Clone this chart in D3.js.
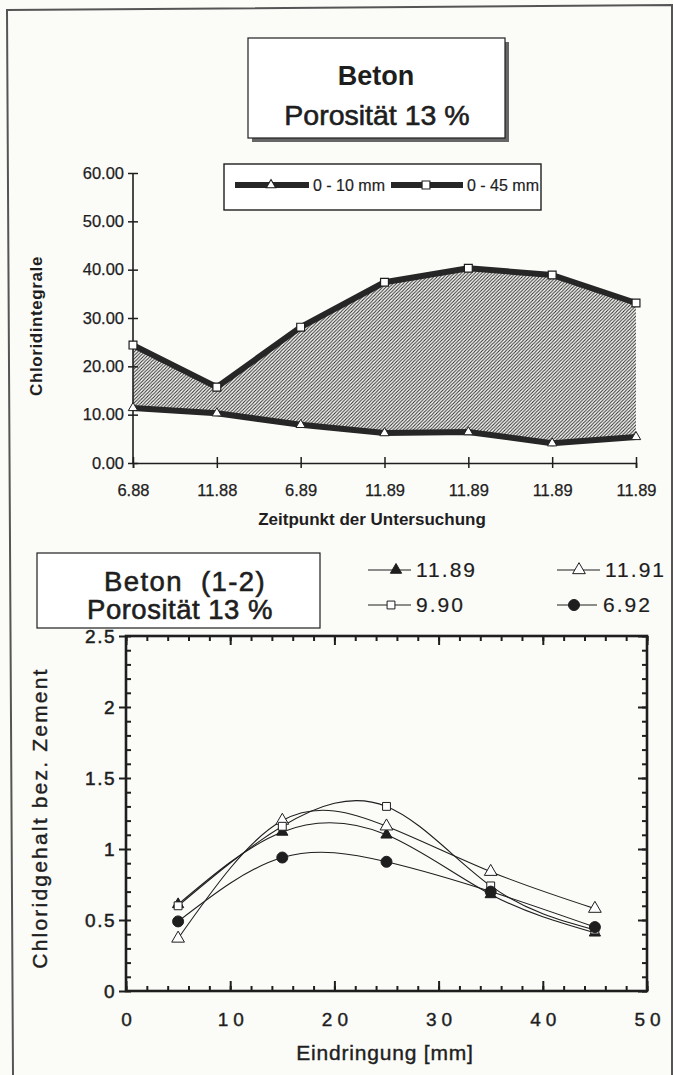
<!DOCTYPE html>
<html>
<head>
<meta charset="utf-8">
<script src="https://cdn.jsdelivr.net/npm/d3@7"></script>
<style>
  body { margin: 0; background: #fbfbf8; }
  text { font-family: "Liberation Sans", Arial, Helvetica, sans-serif; fill: #1e1e1e; }
</style>
</head>
<body>
<svg width="673" height="1075"></svg>
<script>
// ---- data, upper chart (Chloridintegrale) ----
const dates = ["6.88", "11.88", "6.89", "11.89", "11.89", "11.89", "11.89"];
const integ10 = [11.4, 10.3, 7.9, 6.2, 6.4, 4.1, 5.4];      // 0 - 10 mm
const integ45 = [24.4, 15.7, 28.1, 37.4, 40.3, 38.9, 33.1]; // 0 - 45 mm
const integTicks = [0, 10, 20, 30, 40, 50, 60];

// ---- data, lower chart (Chloridgehalt) ----
const depth = [5, 15, 25, 35, 45];
const s1189 = [0.61, 1.12, 1.10, 0.68, 0.41];
const s1191 = [0.37, 1.20, 1.16, 0.84, 0.58];
const s990 = [0.60, 1.16, 1.30, 0.74, 0.43];
const s692 = [0.49, 0.94, 0.91, 0.70, 0.45];
const depthTicks = [0, 10, 20, 30, 40, 50];
const contentTicks = [0, 0.5, 1, 1.5, 2, 2.5];

const svg = d3.select("svg");
const ink = "#1e1e1e";

// hatch for the band between the two lines
svg.append("defs").append("pattern")
    .attr("id", "hatch")
    .attr("patternUnits", "userSpaceOnUse")
    .attr("width", 3.4).attr("height", 3.4)
  .append("path")
    .attr("d", "M-1,1 L1,-1 M0,3.4 L3.4,0 M2.4,4.4 L4.4,2.4")
    .attr("stroke", "#2a2a2a").attr("stroke-width", 1.05);

// page frame (slightly skewed scan)
svg.append("path")
  .attr("d", "M13,1075 L7,10 L672,5 L672,1075")
  .attr("fill", "none").attr("stroke", "#555").attr("stroke-width", 2);

// ================= upper chart =================
// title box with shadow
svg.append("rect").attr("x", 252).attr("y", 42).attr("width", 257).attr("height", 100).attr("fill", "#666");
svg.append("rect").attr("x", 248).attr("y", 38).attr("width", 257).attr("height", 100)
  .attr("fill", "#fff").attr("stroke", ink).attr("stroke-width", 1.2);
svg.append("text").attr("x", 376).attr("y", 85).attr("text-anchor", "middle")
  .attr("font-size", 27).attr("font-weight", "bold").text("Beton");
svg.append("text").attr("x", 377).attr("y", 125).attr("text-anchor", "middle")
  .attr("font-size", 28.5).attr("stroke", ink).attr("stroke-width", 0.6).text("Porosität 13 %");

const x1 = d3.scalePoint().domain(d3.range(dates.length)).range([133, 636]);
const y1 = d3.scaleLinear().domain([0, 60]).range([463, 173]);

const area = d3.area()
  .x((d, i) => x1(i))
  .y0((d, i) => y1(integ10[i]))
  .y1((d, i) => y1(integ45[i]));
svg.append("path").datum(integ45).attr("d", area).attr("fill", "url(#hatch)");

const line1 = d3.line().x((d, i) => x1(i)).y(d => y1(d));
[integ10, integ45].forEach(s => {
  svg.append("path").datum(s).attr("d", line1)
    .attr("fill", "none").attr("stroke", "#262626").attr("stroke-width", 6)
    .attr("stroke-linejoin", "round");
});

// axes with crossing ticks
const yAx1 = svg.append("g").attr("transform", "translate(133,0)")
  .call(d3.axisLeft(y1).tickValues(integTicks).tickFormat(d3.format(".2f")).tickSize(5).tickPadding(4));
const xAx1 = svg.append("g").attr("transform", "translate(0,463)")
  .call(d3.axisBottom(x1).tickFormat(i => dates[i]).tickSize(5).tickPadding(16));
[yAx1, xAx1].forEach(g => {
  g.select(".domain").attr("stroke", ink).attr("stroke-width", 1.6);
  g.selectAll(".tick text").attr("font-size", 16.5).attr("fill", ink)
    .attr("stroke", ink).attr("stroke-width", 0.25);
});
yAx1.selectAll(".tick line").attr("x1", 5).attr("x2", -5).attr("stroke", ink).attr("stroke-width", 1.5);
xAx1.selectAll(".tick line").attr("y1", -6).attr("y2", 5).attr("stroke", ink).attr("stroke-width", 1.5);
yAx1.select(".domain").attr("d", "M0,173V463");

// markers
const tri = d3.symbol().type(d3.symbolTriangle);
const sq = d3.symbol().type(d3.symbolSquare);
svg.append("g").selectAll("path").data(integ10).join("path")
  .attr("transform", (d, i) => `translate(${x1(i)},${y1(d)})`)
  .attr("d", tri.size(38)).attr("fill", "#fff").attr("stroke", ink).attr("stroke-width", 1);
svg.append("g").selectAll("path").data(integ45).join("path")
  .attr("transform", (d, i) => `translate(${x1(i)},${y1(d)})`)
  .attr("d", sq.size(62)).attr("fill", "#fff").attr("stroke", ink).attr("stroke-width", 1.2);

// legend
svg.append("rect").attr("x", 224).attr("y", 164).attr("width", 317).attr("height", 46)
  .attr("fill", "#fff").attr("stroke", ink).attr("stroke-width", 1.4);
const leg1 = [
  { x0: 235, x1: 309, m: 271, tx: 313, label: "0 - 10 mm", sym: tri.size(38) },
  { x0: 391, x1: 463, m: 426, tx: 467, label: "0 - 45 mm", sym: sq.size(62) }
];
leg1.forEach(l => {
  svg.append("line").attr("x1", l.x0).attr("x2", l.x1).attr("y1", 185).attr("y2", 185)
    .attr("stroke", "#262626").attr("stroke-width", 6);
  svg.append("path").attr("transform", `translate(${l.m},185)`).attr("d", l.sym)
    .attr("fill", "#fff").attr("stroke", ink).attr("stroke-width", 1.1);
  svg.append("text").attr("x", l.tx).attr("y", 191).attr("font-size", 16)
    .attr("stroke", ink).attr("stroke-width", 0.2).text(l.label);
});

svg.append("text").attr("transform", "translate(42,326) rotate(-90)").attr("text-anchor", "middle")
  .attr("font-size", 17).attr("font-weight", "bold").attr("letter-spacing", 0.6).text("Chloridintegrale");
svg.append("text").attr("x", 372).attr("y", 525).attr("text-anchor", "middle")
  .attr("font-size", 17).attr("font-weight", "bold").text("Zeitpunkt der Untersuchung");

// ================= lower chart =================
svg.append("rect").attr("x", 37).attr("y", 553).attr("width", 283).attr("height", 75)
  .attr("fill", "#fff").attr("stroke", ink).attr("stroke-width", 1.2);
svg.append("text").attr("x", 185).attr("y", 591).attr("text-anchor", "middle")
  .attr("font-size", 27.5).attr("letter-spacing", 1.4).attr("stroke", ink).attr("stroke-width", 0.6)
  .attr("xml:space", "preserve").text("Beton  (1-2)");
svg.append("text").attr("x", 180).attr("y", 619).attr("text-anchor", "middle")
  .attr("font-size", 27.5).attr("letter-spacing", 0.5).attr("stroke", ink).attr("stroke-width", 0.6).text("Porosität 13 %");

const x2 = d3.scaleLinear().domain([0, 50]).range([126, 647]);
const y2 = d3.scaleLinear().domain([0, 2.5]).range([991, 636]);

const axisStyle = g => {
  g.select(".domain").remove();
  g.selectAll(".tick line").attr("stroke", ink).attr("stroke-width", 2);
};
// minor ticks
svg.append("g").attr("transform", "translate(0,991)")
  .call(d3.axisBottom(x2).tickValues(d3.range(0, 51, 2)).tickSize(-5).tickFormat("")).call(axisStyle);
svg.append("g").attr("transform", "translate(0,636)")
  .call(d3.axisTop(x2).tickValues(d3.range(0, 51, 2)).tickSize(-5).tickFormat("")).call(axisStyle);
svg.append("g").attr("transform", "translate(126,0)")
  .call(d3.axisLeft(y2).tickValues(d3.range(0, 26).map(d => d / 10)).tickSize(-5).tickFormat("")).call(axisStyle);
svg.append("g").attr("transform", "translate(647,0)")
  .call(d3.axisRight(y2).tickValues(d3.range(0, 26).map(d => d / 10)).tickSize(-5).tickFormat("")).call(axisStyle);
// major ticks
const xb = svg.append("g").attr("transform", "translate(0,991)")
  .call(d3.axisBottom(x2).tickValues(depthTicks).tickSize(-10).tickPadding(22)).call(axisStyle);
svg.append("g").attr("transform", "translate(0,636)")
  .call(d3.axisTop(x2).tickValues(depthTicks).tickSize(-9).tickFormat("")).call(axisStyle);
const yl = svg.append("g").attr("transform", "translate(126,0)")
  .call(d3.axisLeft(y2).tickValues(contentTicks).tickSize(7).tickPadding(3).tickFormat(d => d)).call(axisStyle);
svg.append("g").attr("transform", "translate(647,0)")
  .call(d3.axisRight(y2).tickValues(contentTicks).tickSize(-9).tickFormat("")).call(axisStyle);
xb.selectAll(".tick text").attr("font-size", 19).attr("letter-spacing", 5).attr("dx", 2.5).attr("fill", ink)
  .attr("stroke", ink).attr("stroke-width", 0.4);
yl.selectAll(".tick text").attr("font-size", 19).attr("letter-spacing", 1.5).attr("fill", ink)
  .attr("stroke", ink).attr("stroke-width", 0.5);

svg.append("rect").attr("x", 126).attr("y", 636).attr("width", 521).attr("height", 355)
  .attr("fill", "none").attr("stroke", ink).attr("stroke-width", 2.6);

const series2 = [
  { label: "11.89", values: s1189, sym: d3.symbol().type(d3.symbolTriangle).size(55), fill: ink },
  { label: "11.91", values: s1191, sym: d3.symbol().type(d3.symbolTriangle).size(70), fill: "#fff" },
  { label: "9.90", values: s990, sym: d3.symbol().type(d3.symbolSquare).size(62), fill: "#fff" },
  { label: "6.92", values: s692, sym: d3.symbol().type(d3.symbolCircle).size(95), fill: ink }
];
const line2 = d3.line().curve(d3.curveNatural).x((d, i) => x2(depth[i])).y(d => y2(d));
series2.forEach(s => {
  svg.append("path").datum(s.values).attr("d", line2)
    .attr("fill", "none").attr("stroke", ink).attr("stroke-width", 1.1);
});
series2.forEach(s => {
  svg.append("g").selectAll("path").data(s.values).join("path")
    .attr("transform", (d, i) => `translate(${x2(depth[i])},${y2(d)})`)
    .attr("d", s.sym).attr("fill", s.fill).attr("stroke", ink).attr("stroke-width", 1);
});

// legend
const legPos = [
  { x0: 368, x1: 411, m: 396, tx: 416, y: 570 },
  { x0: 557, x1: 600, m: 579, tx: 605, y: 570 },
  { x0: 368, x1: 411, m: 391, tx: 416, y: 605 },
  { x0: 557, x1: 597, m: 574, tx: 603, y: 605 }
];
series2.forEach((s, i) => {
  const p = legPos[i];
  svg.append("line").attr("x1", p.x0).attr("x2", p.x1).attr("y1", p.y).attr("y2", p.y)
    .attr("stroke", ink).attr("stroke-width", 1.1);
  svg.append("path").attr("transform", `translate(${p.m},${p.y})`).attr("d", s.sym)
    .attr("fill", s.fill).attr("stroke", ink).attr("stroke-width", 1);
  svg.append("text").attr("x", p.tx).attr("y", p.y + 7).attr("font-size", 21)
    .attr("letter-spacing", 2).attr("stroke", ink).attr("stroke-width", 0.2).text(s.label);
});

svg.append("text").attr("transform", "translate(47,818) rotate(-90)").attr("text-anchor", "middle")
  .attr("font-size", 21).attr("letter-spacing", 2.2).attr("stroke", ink).attr("stroke-width", 0.4)
  .text("Chloridgehalt  bez.  Zement");
svg.append("text").attr("x", 385).attr("y", 1060).attr("text-anchor", "middle")
  .attr("font-size", 21).attr("letter-spacing", 0.8).attr("stroke", ink).attr("stroke-width", 0.4)
  .text("Eindringung [mm]");
</script>
</body>
</html>
